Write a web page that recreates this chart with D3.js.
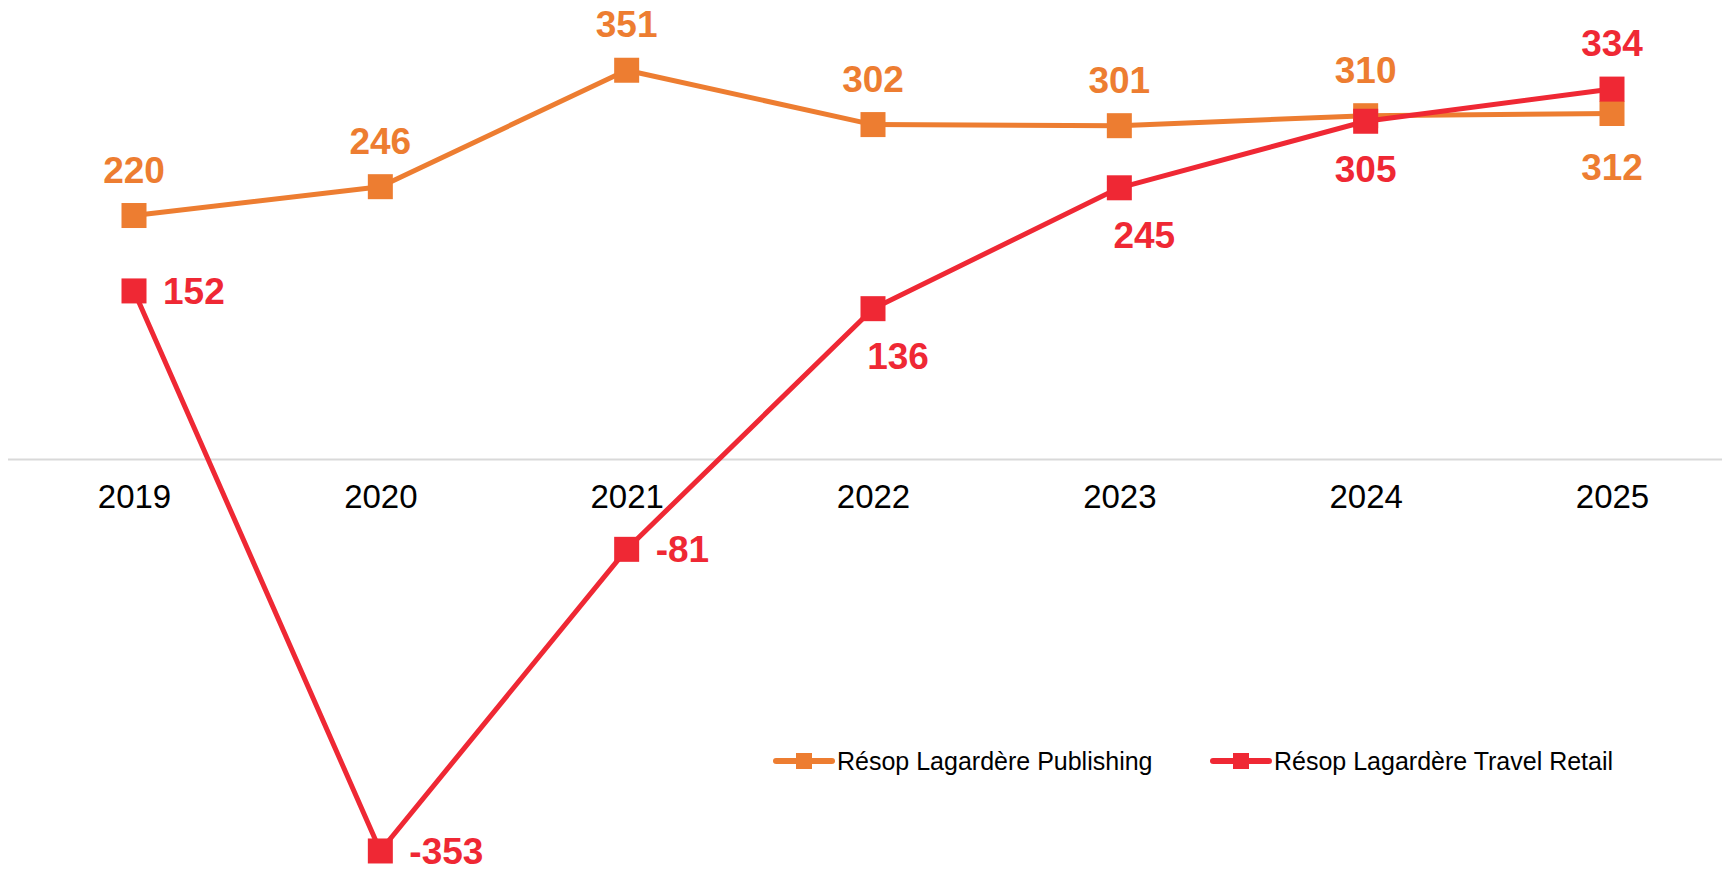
<!DOCTYPE html>
<html>
<head>
<meta charset="utf-8">
<script src="https://cdn.jsdelivr.net/npm/d3@7"></script>
<style>
  body { margin: 0; background: #fff; }
  svg { display: block; font-family: Arial, "Liberation Sans", sans-serif; }
</style>
</head>
<body>
<div id="chart"></div>
<script>
var width = 1722,
    height = 869;

// data
var years = ["2019", "2020", "2021", "2022", "2023", "2024", "2025"];
var publishing = [220, 246, 351, 302, 301, 310, 312];
var travelRetail = [152, -353, -81, 136, 245, 305, 334];
var publishingLabelPos = ["above", "above", "above", "above", "above", "above", "below2"];
var travelLabelPos = ["right", "right", "right", "belowRight", "belowRight", "below", "above"];
var seriesNames = ["Résop Lagardère Publishing", "Résop Lagardère Travel Retail"];

var colors = ["#ED7D31", "#EF2834"];

var x = d3.scalePoint()
    .domain(years)
    .range([134, 1612]);

var y = d3.scaleLinear()
    .domain([-400, 400])
    .range([903.1, 15.9]);

var svg = d3.select("#chart").append("svg")
    .attr("width", width)
    .attr("height", height);

// baseline at zero
svg.append("line")
    .attr("x1", 8)
    .attr("x2", width)
    .attr("y1", y(0))
    .attr("y2", y(0))
    .style("stroke", "#d9d9d9")
    .style("stroke-width", 2);

// year labels via axis
var xAxis = d3.axisBottom(x).tickSize(0).tickPadding(25);
var gx = svg.append("g")
    .attr("transform", "translate(0," + y(0) + ")")
    .call(xAxis);
gx.select(".domain").remove();
gx.selectAll("text")
    .style("font-size", "33px")
    .style("font-family", "Arial, 'Liberation Sans', sans-serif")
    .style("fill", "#000");

var series = [
  { name: seriesNames[0], values: publishing, pos: publishingLabelPos, color: colors[0] },
  { name: seriesNames[1], values: travelRetail, pos: travelLabelPos, color: colors[1] }
];

var line = d3.line()
    .x(function(d) { return x(d.year); })
    .y(function(d) { return y(d.value); });

var marker = 25;

var labelOffset = {
  above:      { dx: 0,  dy: -33, anchor: "middle" },
  below:      { dx: 0,  dy: 61,  anchor: "middle" },
  below2:     { dx: 0,  dy: 67,  anchor: "middle" },
  belowRight: { dx: 25, dy: 60,  anchor: "middle" },
  right:      { dx: 29, dy: 13,  anchor: "start" }
};

series.forEach(function(s) {
  var pts = years.map(function(yr, i) {
    return { year: yr, value: s.values[i], pos: s.pos[i] };
  });

  var g = svg.append("g");

  g.append("path")
    .datum(pts)
    .attr("d", line)
    .style("fill", "none")
    .style("stroke", s.color)
    .style("stroke-width", 5)
    .style("stroke-linejoin", "round");

  g.selectAll("rect")
    .data(pts)
    .enter().append("rect")
    .attr("x", function(d) { return x(d.year) - marker / 2; })
    .attr("y", function(d) { return y(d.value) - marker / 2; })
    .attr("width", marker)
    .attr("height", marker)
    .style("fill", s.color);

  s.pts = pts;
});

// labels on top of everything
series.forEach(function(s) {
  svg.append("g").selectAll("text")
    .data(s.pts)
    .enter().append("text")
    .attr("x", function(d) { return x(d.year) + labelOffset[d.pos].dx; })
    .attr("y", function(d) { return y(d.value) + labelOffset[d.pos].dy; })
    .attr("text-anchor", function(d) { return labelOffset[d.pos].anchor; })
    .style("font-size", "37px")
    .style("font-weight", "bold")
    .style("fill", s.color)
    .text(function(d) { return d.value; });
});

// legend
var legendX = [776, 1213];
var legend = svg.append("g")
    .attr("transform", "translate(0,761)");

series.forEach(function(s, i) {
  var lg = legend.append("g")
    .attr("transform", "translate(" + legendX[i] + ",0)");
  lg.append("line")
    .attr("x1", 0).attr("x2", 56)
    .attr("y1", 0).attr("y2", 0)
    .style("stroke", s.color)
    .style("stroke-width", 6)
    .style("stroke-linecap", "round");
  lg.append("rect")
    .attr("x", 20).attr("y", -8)
    .attr("width", 16).attr("height", 16)
    .style("fill", s.color);
  lg.append("text")
    .attr("x", 61)
    .attr("y", 9)
    .style("font-size", "25px")
    .style("fill", "#000")
    .text(s.name);
});
</script>
</body>
</html>
